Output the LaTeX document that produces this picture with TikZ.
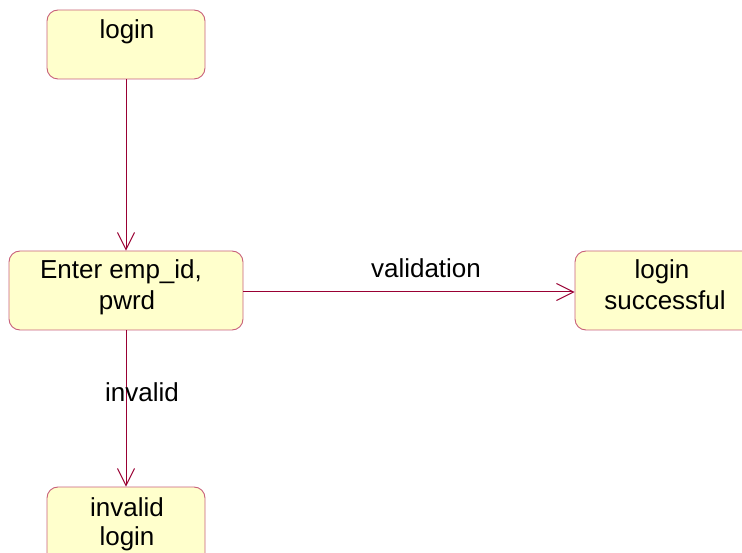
\documentclass[tikz,border=0pt]{standalone}
\usepackage{fontspec}
\setmainfont{Liberation Sans}
\usetikzlibrary{arrows.meta}
\definecolor{boxfill}{HTML}{FFFFCC}
\definecolor{boxline}{HTML}{C8607A}
\definecolor{arrowcol}{HTML}{990033}
\tikzset{
  statebox/.style={draw=boxline, fill=boxfill, line width=0.9pt, rounded corners=11pt, inner sep=0pt},
  txt/.style={font=\fontsize{26}{30}\selectfont, align=center, inner sep=0pt, text=black},
  flow/.style={draw=arrowcol, line width=1pt, -{Straight Barb[length=17pt,width=17pt,line width=1pt]}}
}
\begin{document}
\begin{tikzpicture}[x=1pt,y=-1pt]
\useasboundingbox (0,0) rectangle (742,553);
\clip (0,0) rectangle (742,553);
% boxes
\node[statebox, minimum width=158pt, minimum height=69pt] (login) at (126,44.5) {};
\node[statebox, minimum width=234pt, minimum height=79pt] (enter) at (126,290.5) {};
\node[statebox, minimum width=200pt, minimum height=79pt] (succ) at (675,290.5) {};
\node[statebox, minimum width=158pt, minimum height=90pt] (inval) at (126,532) {};
% texts
\node[txt, anchor=base] (t1) at (127,39) {login};
\node[txt, anchor=base] (t2a) at (121,279) {Enter emp\_id,};
\node[txt, anchor=base] (t2b) at (127,310) {pwrd};
\node[txt, anchor=base] (t3a) at (662,279) {login};
\node[txt, anchor=base] (t3b) at (665,310) {successful};
\node[txt, anchor=base] (t4a) at (127,516) {invalid};
\node[txt, anchor=base] (t4b) at (127,545) {login};
% connectors
\coordinate (hstart) at ([yshift=-1.5pt]enter.east);
\draw[flow] (login.south) -- (enter.north);
\draw[flow] (hstart) -- (hstart -| succ.west);
\draw[flow] (enter.south) -- (inval.north);
\node[txt, anchor=base] (l1) at (426,278) {validation};
\node[txt, anchor=base] (l2) at (142,402) {invalid};
\end{tikzpicture}
\end{document}
